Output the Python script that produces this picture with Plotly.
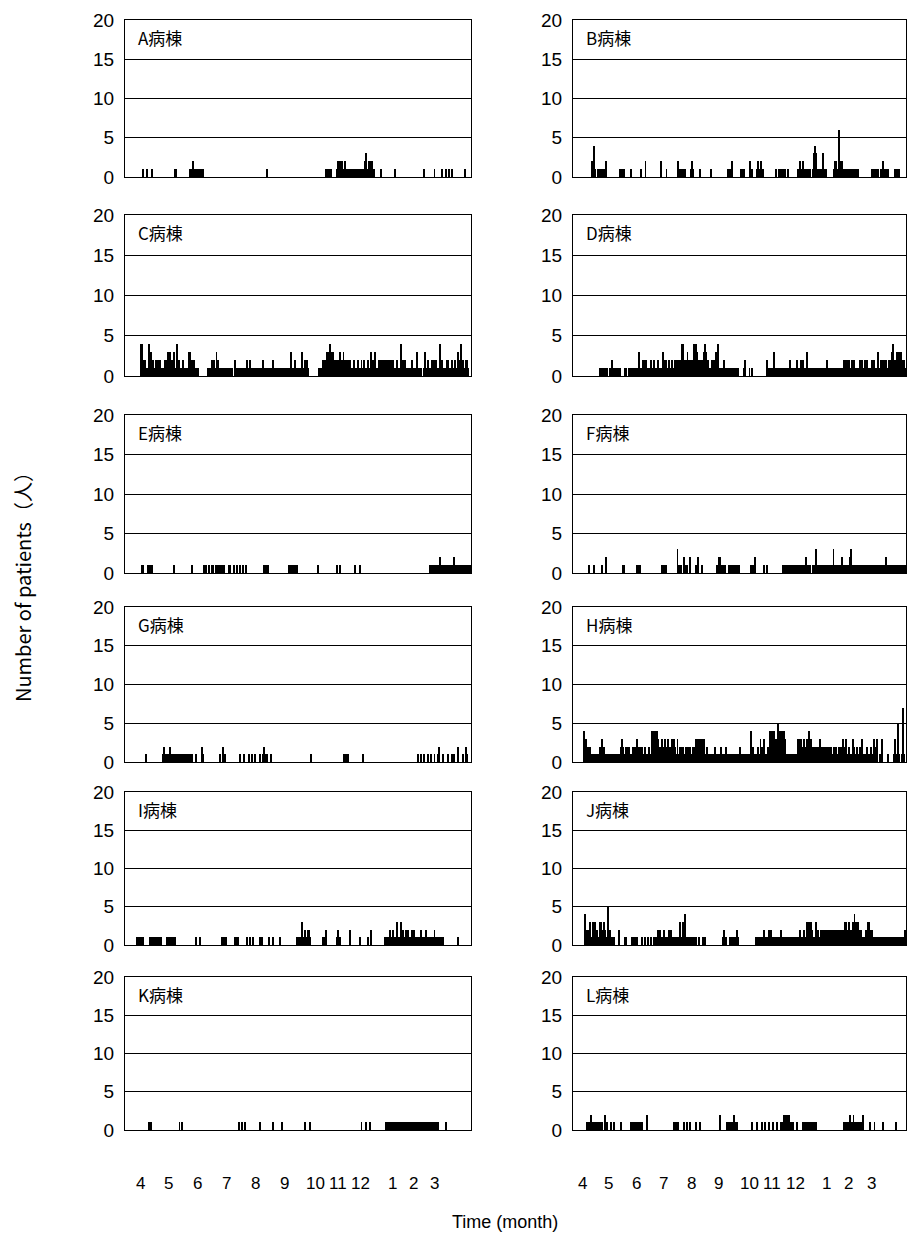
import plotly.graph_objects as go

# ---------------- data (daily counts, Apr -> Mar, 365 days; groups of 10 days) ----------------
def to_list(s):
    return [int(ch) for ch in "".join(s.split())]

ward_names = ["A病棟", "B病棟", "C病棟", "D病棟", "E病棟", "F病棟",
              "G病棟", "H病棟", "I病棟", "J病棟", "K病棟", "L病棟"]

ward_a = to_list("""
0000000000 0000000011 0001000010 0000000000 0000000000 0011000000 0000000011 1211111111
1110000000 0000000000 0000000000 0000000000 0000000000 0000000000 0000000001 0000000000
0000000000 0000000000 0000000000 0000000000 0000000000 0111111100 0001212121 1121111111
1111111111 1112311212 2110000000 1000000000 0000100000 0000000000 0000000000 0000010000
0000001000 0000100010 0100100000 0000000010 00000""")

ward_b = to_list("""
0000000000 0000000000 2234100111 1111112000 0000000000 0110110000 0001000000 0000100002
0000000000 0000002000 0010000000 0000020111 1110000001 2100000001 0000000000 0100000000
0000000001 0110200000 0000110100 0000211000 0121012110 0000000000 0010010100 1010010000
0000001121 1121111011 0001343111 1010310100 0000001221 1612211111 1111011101 1010000000
0000000110 1101100102 1011110000 0011111100 00000""")

ward_c = to_list("""
0000000000 0000004421 1211141312 1121212111 1121231321 2311421211 1211111332 2121111100
0000000101 1212113121 1111011101 1010012110 1111101121 1210111101 1111121110 1010112110
1111011110 1010131102 1101103112 2121000000 0000111121 2123234313 2121213212 3121221211
1211121112 1121112113 1213111212 1212121221 2121112111 1412121011 1121111130 1010013012
1112121121 1141211112 2111211121 1312412112 21000""")

ward_d = to_list("""
0000000000 0000000000 0000000001 1111001100 1121111011 1100001010 0101010111 1131112121
2111121121 1112111132 2121121121 1212121214 4121232122 1244432212 1213431211 1121213142
1111121110 1111011110 1000000120 0001001000 0000000000 0021111111 3111111111 1111101210
1111121112 2121113111 0101101011 1010101121 1101010101 1011112122 2121122121 1111212112
2121111212 1111311212 2122112123 4212131313 21210""")

ward_e = to_list("""
0000000000 0000000110 0000111110 0000000000 0000000000 0100000000 0000000000 1000000000
0001010010 0110011111 0111100001 1000110010 0100100100 0000000000 0000001111 1000000000
0000000000 0010101010 1100000000 0000000000 0001000000 0000000000 0001001000 0000000000
0010000100 0000000000 0000000000 0000000000 0000000000 0000000000 0000000000 0000000000
0110101101 1021101110 1101101211 1111111111 11110""")

ward_f = to_list("""
0000000000 0000000100 0001000000 0100002000 0000000000 0000110000 0000000000 1101000000
0000000000 0000000110 1010000000 0000301010 0201010020 0000100200 0100000000 0000000102
1211111000 1011010110 1010000000 0000010102 0000000001 0010000000 0000000000 1011101110
1111011101 1101121011 0011113110 1111111011 1101031111 1111211111 1112311010 1010101011
0101101101 1111111010 1112111111 1111111111 11110""")

ward_g = to_list("""
0000000000 0000000000 0010000000 0000000000 1211111211 1111111111 1111101010 1000100000
0210000000 0000000000 1002010000 0000000000 0100010000 1001000100 0010012101 0000100000
0000000000 0000000000 0000000000 0000001000 0000000000 0000000000 0000000000 1110110000
0000000000 0100000000 0000000000 0000000000 0000000000 0000000000 0000000001 0010010001
0010001000 1200010000 1000100100 0200001002 10000""")

ward_h = to_list("""
0000000000 0042322121 1101111012 2321211111 1111111110 1123211212 1211121212 3212121121
1112114444 4443121312 3212312131 3211311212 2112112121 1212313131 3133112111 1111121111
1121111211 1111111101 0112110111 1111141211 1121131213 1112143241 4132534214 2431111101
1111113232 3213123142 3121212121 3221221212 2121112121 1212131213 1121113121 1211213011
0120102013 0203001030 0000010000 0130015100 17100""")

ward_i = to_list("""
0000000000 0011111110 0000001111 1101101010 0000110111 1010000000 0000000000 0000100001
0000000000 0000000000 0011111000 0000001101 0000000010 0100010000 0011100000 0100001000
0001000000 0000000000 0111113112 1121210000 0000000011 1020000000 0001211000 0000000200
0000000100 0000001002 0000000000 0000111112 1121113111 1312112121 1121211111 1121111211
1111112111 1101010000 0000000000 0100000000 00000""")

ward_j = to_list("""
0000000000 0004121231 1312312113 3213121152 2111100000 2000001010 0000101001 1000010010
0010010010 1012121112 1111121211 1111111311 3141111010 1010100010 0010100000 0000000000
0000121100 0010101012 1000000000 0000000000 1101011012 1111211201 1011101211 1111110111
1111011121 1112113333 3211113121 1212121212 2121212121 2121212133 1231213142 3132121111
1213321211 1111111111 1101101101 1101101101 11120""")

ward_k = to_list("""
0000000000 0000000000 0000011100 0000000000 0000000000 0000000100 1000000000 0000000000
0000000000 0000000000 0000000000 0000000000 1001001000 0000000000 0010000000 0000001000
0000010000 0000000000 0000000001 0000010000 0000000000 0000000000 0000000000 0000000000
0000000001 0000100010 0000000000 0000010101 0111101111 1101110111 1011111101 1110111101
1101110110 1000000010 0000000000 0000000000 00000""")

ward_l = to_list("""
0000000000 0000011112 1111111111 1100020100 0100100000 0010000000 0001111111 1111110000
0200000000 0000000000 0000000000 1010010000 0100100010 0000100001 0000000000 0000000000
0200000011 1111112111 0000000000 0000001000 0100000100 1000100001 0001000100 1212212010
0100010000 0011111111 1111111000 0000000000 0000000000 0000001111 1112111211 1111111200
0000010000 1000000001 0000000000 0000100000 00000""")

ward_counts = [ward_a, ward_b, ward_c, ward_d, ward_e, ward_f,
               ward_g, ward_h, ward_i, ward_j, ward_k, ward_l]

y_tick_vals = [0, 5, 10, 15, 20]
month_labels = ["4", "5", "6", "7", "8", "9", "10", "11", "12", "1", "2", "3"]
month_pos_left = [15.8, 45.4, 76, 106.5, 137, 167.7, 200.4, 224.7, 247.9, 281.7, 303.8, 326]
month_pos_right = [9.9, 38.4, 69, 98.7, 129.4, 159, 193, 218, 243.4, 277.4, 301.5, 326.7]

# ---------------- layout geometry (pixels) ----------------
W, H = 908, 1246
col_px = [(125, 471), (573, 906)]
row_px = [(20, 177), (215, 376), (415, 573), (607, 762), (792, 945), (977, 1130)]
FONT = "Liberation Sans, Arial, sans-serif"
JFONT = "Noto Sans CJK JP, sans-serif"

fig = go.Figure()
layout = dict(
    width=W, height=H,
    margin=dict(l=0, r=0, t=0, b=0, pad=0, autoexpand=False),
    paper_bgcolor="white", plot_bgcolor="white",
    showlegend=False, bargap=0,
    font=dict(family=FONT, color="black"),
)
annotations = []

for i, (name, vals) in enumerate(zip(ward_names, ward_counts)):
    r, c = divmod(i, 2)
    n = i + 1
    sfx = "" if n == 1 else str(n)
    xa, ya = "x" + sfx, "y" + sfx
    x0, x1 = col_px[c]
    y0, y1 = row_px[r]
    fig.add_trace(go.Bar(
        x=list(range(len(vals))), y=vals, xaxis=xa, yaxis=ya,
        width=1.0, marker=dict(color="black", line=dict(width=0)),
        hoverinfo="skip",
    ))
    layout["xaxis" + sfx] = dict(
        domain=[x0 / W, x1 / W], anchor=ya, range=[-0.5, 364.5],
        showline=True, mirror=True, linecolor="black", linewidth=1.3,
        showgrid=False, zeroline=False, showticklabels=False, ticks="",
        automargin=False,
    )
    layout["yaxis" + sfx] = dict(
        domain=[1 - y1 / H, 1 - y0 / H], anchor=xa, range=[0, 20],
        tickvals=y_tick_vals, showgrid=True, gridcolor="black", gridwidth=1.2,
        showline=True, mirror=True, linecolor="black", linewidth=1.3,
        zeroline=False, ticks="", ticklabelstandoff=6, automargin=False,
        tickfont=dict(family=FONT, size=19, color="black"),
    )
    annotations.append(dict(
        text=name, xref="paper", yref="paper",
        x=(x0 + 11) / W, y=1 - (y0 + 3) / H, xanchor="left", yanchor="top",
        showarrow=False, font=dict(family=JFONT, size=17, color="black"),
    ))
    if r == 5:
        pos = month_pos_left if c == 0 else month_pos_right
        for lab, p in zip(month_labels, pos):
            annotations.append(dict(
                text=lab, xref=xa, yref="paper", x=p, y=1 - 1183 / H,
                xanchor="center", yanchor="middle", showarrow=False,
                font=dict(family=FONT, size=17, color="black"),
            ))

annotations.append(dict(
    text="Number of patients（人）", xref="paper", yref="paper",
    x=22 / W, y=1 - 582 / H, xanchor="center", yanchor="middle",
    textangle=-90, showarrow=False,
    font=dict(family=JFONT, size=20, color="black"),
))
annotations.append(dict(
    text="Time (month)", xref="paper", yref="paper",
    x=505 / W, y=1 - 1222 / H, xanchor="center", yanchor="middle",
    showarrow=False, font=dict(family=FONT, size=18, color="black"),
))
layout["annotations"] = annotations
fig.update_layout(**layout)
fig.write_html("out.html")
